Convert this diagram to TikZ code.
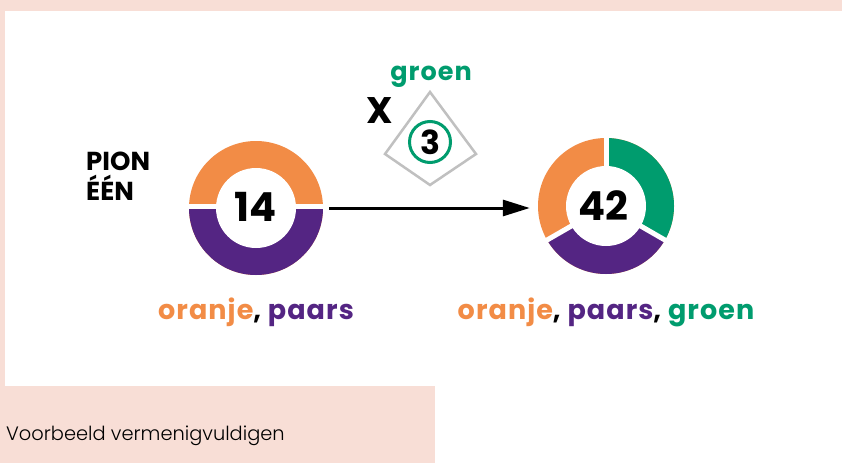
\documentclass[tikz,border=0pt]{standalone}
\usepackage{fontspec}
\setmainfont{Poppins}
\newfontfamily\lightfont{Poppins Light}
\newfontfamily\widefont{Poppins}[LetterSpace=4]
\usetikzlibrary{arrows.meta}
\definecolor{bgpink}{RGB}{248,222,214}
\definecolor{cor}{RGB}{242,140,70}
\definecolor{cpu}{RGB}{84,37,131}
\definecolor{cgr}{RGB}{0,156,110}
\definecolor{cgy}{RGB}{192,192,192}
\tikzset{
  big/.style={font=\bfseries\fontsize{40}{40}\selectfont, text=black, inner sep=0pt},
  lbl/.style={font=\widefont\bfseries\fontsize{27}{30}\selectfont, inner sep=0pt, anchor=base},
  gap/.style={draw=white, line width=5pt},
  ring/.style={circle, inner sep=0pt},
}
\begin{document}
\begin{tikzpicture}[x=1pt,y=-1pt]
\useasboundingbox (0,0) rectangle (842,463);
\fill[white] (0,0) rectangle (842,463);
\fill[bgpink] (0,0) rectangle (842,11);
\fill[bgpink] (0,11) rectangle (5,386);
\fill[bgpink] (0,386) rectangle (435,463);

% left donut
\coordinate (c1) at (256,208);
\fill[cor] (c1) circle (67pt);
\begin{scope}
  \clip (c1) circle (67pt);
  \fill[cpu] (180,207) rectangle (340,290);
\end{scope}
\draw[gap] (180,206) -- (335,206);
\fill[white] (c1) circle (40pt);
\node[ring, minimum size=134pt] (d1) at (c1) {};
\node[big] (n14) at (256,207) {14};

% right donut
\coordinate (c2) at (606,206);
\begin{scope}
  \clip (c2) circle (68pt);
  \fill[cor] (c2) circle (70pt);
  \fill[cgr] (c2) -- (606,56) -- (740,56) -- (735.9,281) -- cycle;
  \fill[cpu] (c2) -- (735.9,281) -- (735.9,350) -- (476.1,350) -- (476.1,281) -- cycle;
\end{scope}
\draw[gap] (c2) -- (606,120);
\draw[gap] (c2) -- (675.3,246);
\draw[gap] (c2) -- (536.7,246);
\fill[white] (c2) circle (40pt);
\node[ring, minimum size=136pt] (d2) at (c2) {};
\node[big] (n42) at (603,206) {42};

% arrow
\draw[line width=3pt, -{Triangle[length=27pt,width=16pt]}, shorten <=6pt, shorten >=8pt]
  (d1.east) -- (d1.east -| d2.west);

% multiplier
\draw[cgy, line width=2.5pt, line join=miter] (430,92) -- (476,154) -- (430,185) -- (385,154) -- cycle;
\node[circle, draw=cgr, line width=3pt, minimum size=41pt, inner sep=0pt,
      font=\bfseries\fontsize{33}{33}\selectfont] (three) at (430,142) {3};
\node[lbl, text=cgr, font=\widefont\bfseries\fontsize{25.5}{25.5}\selectfont] (groen) at (431,80) {groen};
\node[anchor=base, inner sep=0pt, font=\bfseries\fontsize{37}{37}\selectfont] (x) at (380,123) {X};

% labels
\node[anchor=base west, inner sep=0pt, align=left, font=\bfseries\fontsize{26}{30}\selectfont] (pion) at (86,200) {PION\\ÉÉN};
\node[lbl] (l1) at (256,319) {\textcolor{cor}{oranje}, \textcolor{cpu}{paars}};
\node[lbl] (l2) at (606,319) {\textcolor{cor}{oranje}, \textcolor{cpu}{paars}, \textcolor{cgr}{groen}};

\node[anchor=base west, inner sep=0pt, font=\lightfont\fontsize{19.4}{19.4}\selectfont] (cap) at (6,440) {Voorbeeld vermenigvuldigen};
\end{tikzpicture}
\end{document}
